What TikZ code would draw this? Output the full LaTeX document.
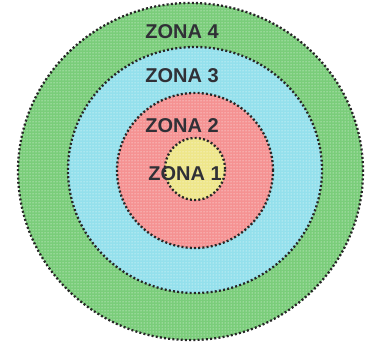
\documentclass[tikz,border=0pt]{standalone}
\usepackage{fontspec}
\setmainfont{Liberation Sans}
\usetikzlibrary{patterns}
\definecolor{zgreen}{RGB}{122,205,122}
\definecolor{zcyan}{RGB}{148,224,236}
\definecolor{zpink}{RGB}{245,146,146}
\definecolor{zyellow}{RGB}{238,230,138}
\definecolor{ztext}{RGB}{48,48,54}
\tikzset{
  zone/.style={draw=black!85, line width=2.3pt, dash pattern=on 2pt off 2.2pt},
  dotsfill/.style={pattern=dots, pattern color=white},
  zlabel/.style={text=ztext, font=\fontsize{20}{20}\selectfont\bfseries, inner sep=0pt, anchor=center}
}
\begin{document}
\begin{tikzpicture}[x=1pt,y=1pt]
\useasboundingbox (0,0) rectangle (366,344);
\coordinate (c4) at (190.5,172.5);
\coordinate (c3) at (195,174);
\coordinate (c2) at (195,173.5);
\coordinate (c1) at (195,175);
\fill[zgreen] (c4) ellipse [x radius=172.5, y radius=168.5];
\fill[dotsfill] (c4) ellipse [x radius=172.5, y radius=168.5];
\fill[zcyan] (c3) ellipse [x radius=127, y radius=123];
\fill[dotsfill] (c3) ellipse [x radius=127, y radius=123];
\fill[zpink] (c2) ellipse [x radius=78, y radius=77.5];
\fill[dotsfill] (c2) ellipse [x radius=78, y radius=77.5];
\fill[zyellow] (c1) ellipse [x radius=30, y radius=31];
\fill[dotsfill] (c1) ellipse [x radius=30, y radius=31];
\draw[zone] (c4) ellipse [x radius=172.5, y radius=168.5];
\draw[zone] (c3) ellipse [x radius=127, y radius=123];
\draw[zone] (c2) ellipse [x radius=78, y radius=77.5];
\draw[zone] (c1) ellipse [x radius=30, y radius=31];
\node[zlabel] (z4) at (182,312) {ZONA 4};
\node[zlabel] (z3) at (182,268) {ZONA 3};
\node[zlabel] (z2) at (182,218) {ZONA 2};
\node[zlabel] (z1) at (185,170) {ZONA 1};
\end{tikzpicture}
\end{document}
